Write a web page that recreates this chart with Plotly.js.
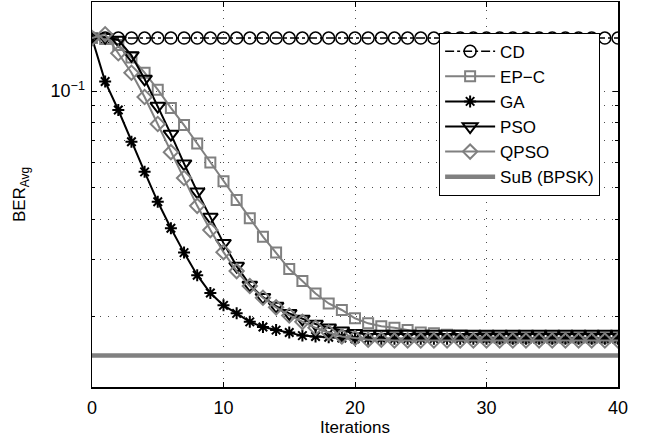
<!DOCTYPE html>
<html>
<head>
<meta charset="utf-8">
<script src="https://cdn.plot.ly/plotly-3.0.1.min.js"></script>
<style>html,body{margin:0;padding:0;background:#fff;}#chart{width:650px;height:440px;}</style>
</head>
<body>
<div id="chart"></div>
<script>
const iterations = [0,1,2,3,4,5,6,7,8,9,10,11,12,13,14,15,16,17,18,19,20,21,22,23,24,25,26,27,28,29,30,31,32,33,34,35,36,37,38,39,40];
const cd   = [0.146,0.146,0.146,0.146,0.146,0.146,0.146,0.146,0.146,0.146,0.146,0.146,0.146,0.146,0.146,0.146,0.146,0.146,0.146,0.146,0.146,0.146,0.146,0.146,0.146,0.146,0.146,0.146,0.146,0.146,0.146,0.146,0.146,0.146,0.146,0.146,0.146,0.146,0.146,0.146,0.146];
const epc  = [0.146,0.145,0.139,0.127,0.114,0.101,0.0886,0.0784,0.0687,0.0600,0.0525,0.0459,0.0403,0.0353,0.0315,0.0280,0.0257,0.0235,0.0219,0.0209,0.0197,0.0190,0.0186,0.0184,0.0181,0.0178,0.0177,0.0175,0.0174,0.0173,0.0172,0.0171,0.0171,0.0171,0.0171,0.0171,0.0171,0.0171,0.0171,0.0171,0.0171];
const ga   = [0.146,0.107,0.0873,0.0696,0.0561,0.0453,0.0375,0.0315,0.0268,0.0236,0.0216,0.0204,0.0192,0.0185,0.0181,0.0178,0.0174,0.0173,0.0172,0.0171,0.0170,0.0170,0.0170,0.0170,0.0170,0.0170,0.0170,0.0170,0.0170,0.0170,0.0170,0.0170,0.0170,0.0170,0.0170,0.0170,0.0170,0.0170,0.0170,0.0170,0.0170];
const pso  = [0.146,0.147,0.144,0.129,0.109,0.0898,0.0735,0.0595,0.0487,0.0406,0.0337,0.0286,0.0250,0.0229,0.0215,0.0204,0.0196,0.0189,0.0184,0.0180,0.0177,0.0176,0.0176,0.0176,0.0176,0.0176,0.0176,0.0176,0.0176,0.0176,0.0176,0.0176,0.0176,0.0176,0.0176,0.0176,0.0176,0.0176,0.0176,0.0176,0.0176];
const qpso = [0.146,0.150,0.131,0.114,0.0958,0.0790,0.0646,0.0537,0.0440,0.0370,0.0316,0.0276,0.0248,0.0228,0.0213,0.0201,0.0192,0.0184,0.0178,0.0173,0.0171,0.0169,0.0169,0.0168,0.0168,0.0168,0.0168,0.0168,0.0168,0.0168,0.0168,0.0168,0.0168,0.0168,0.0168,0.0168,0.0168,0.0168,0.0168,0.0168,0.0168];
const subX = [0, 40];
const subY = [0.0151, 0.0151];
const names = ['CD','EP\u2212C','GA','PSO','QPSO','SuB (BPSK)'];
const yTickVals = [0.1];
const yTickText = ['10<sup>\u22121</sup>'];
const yMinorVals = [0.02,0.03,0.04,0.05,0.06,0.07,0.08,0.09];
const xTickVals = [0,10,20,30,40];

const GRAY = 'rgb(128,128,128)';
const FONT = 'Liberation Sans, Arial, Helvetica, sans-serif';

const traces = [
  {x: iterations, y: cd, name: names[0], mode: 'lines+markers',
   line: {color: 'black', width: 1.5, dash: 'dashdot'},
   marker: {symbol: 'circle-open', size: 12, color: 'black', line: {width: 1.5, color: 'black'}}},
  {x: iterations, y: epc, name: names[1], mode: 'lines+markers',
   line: {color: GRAY, width: 2},
   marker: {symbol: 'square-open', size: 10, color: GRAY, line: {width: 2, color: GRAY}}},
  {x: iterations, y: ga, name: names[2], mode: 'lines+markers',
   line: {color: 'black', width: 2},
   marker: {symbol: 'asterisk-open', size: 10, color: 'black', line: {width: 2, color: 'black'}}},
  {x: iterations, y: pso, name: names[3], mode: 'lines+markers',
   line: {color: 'black', width: 2},
   marker: {symbol: 'triangle-down-open', size: 13, color: 'black', line: {width: 2, color: 'black'}}},
  {x: iterations, y: qpso, name: names[4], mode: 'lines+markers',
   line: {color: GRAY, width: 2},
   marker: {symbol: 'diamond-open', size: 11, color: GRAY, line: {width: 2, color: GRAY}}},
  {x: subX, y: subY, name: names[5], mode: 'lines',
   line: {color: GRAY, width: 4.5}}
];

const gridDash = '1px,7px';
const layout = {
  width: 650, height: 440,
  margin: {l: 92, r: 32, t: 2, b: 53},
  paper_bgcolor: 'white', plot_bgcolor: 'white',
  font: {family: FONT, size: 18, color: 'black'},
  showlegend: true,
  legend: {x: 0.966, xanchor: 'right', y: 0.497, yanchor: 'bottom',
           bgcolor: 'white', bordercolor: 'black', borderwidth: 1,
           font: {family: FONT, size: 17, color: 'black'}, itemwidth: 50},
  xaxis: {range: [0, 40], tickmode: 'array', tickvals: xTickVals,
          ticks: 'inside', ticklen: 5, tickcolor: 'black', mirror: 'ticks',
          showline: true, linecolor: 'black', linewidth: 1.5, zeroline: false,
          showgrid: true, gridcolor: 'rgba(0,0,0,0.7)', griddash: gridDash, gridwidth: 1,
          tickfont: {family: FONT, size: 18}, ticklabelstandoff: 4,
          title: {text: 'Iterations', font: {family: FONT, size: 17}, standoff: 2}},
  yaxis: {type: 'log', range: [-1.919, -0.7236], tickmode: 'array',
          tickvals: yTickVals, ticktext: yTickText,
          ticks: 'inside', ticklen: 5, tickcolor: 'black', mirror: 'ticks',
          showline: true, linecolor: 'black', linewidth: 1.5, zeroline: false,
          showgrid: true, gridcolor: 'rgba(0,0,0,0.7)', griddash: gridDash, gridwidth: 1,
          minor: {tickmode: 'array', tickvals: yMinorVals, ticks: 'inside', ticklen: 3,
                  tickcolor: 'black', showgrid: true, gridcolor: 'rgba(0,0,0,0.7)',
                  griddash: gridDash, gridwidth: 1},
          tickfont: {family: FONT, size: 18}, ticklabelstandoff: 2,
          title: {text: 'BER<sub>Avg</sub>', font: {family: FONT, size: 17}, standoff: 20}}
};

Plotly.newPlot('chart', traces, layout, {displayModeBar: false, staticPlot: true});
</script>
</body>
</html>
